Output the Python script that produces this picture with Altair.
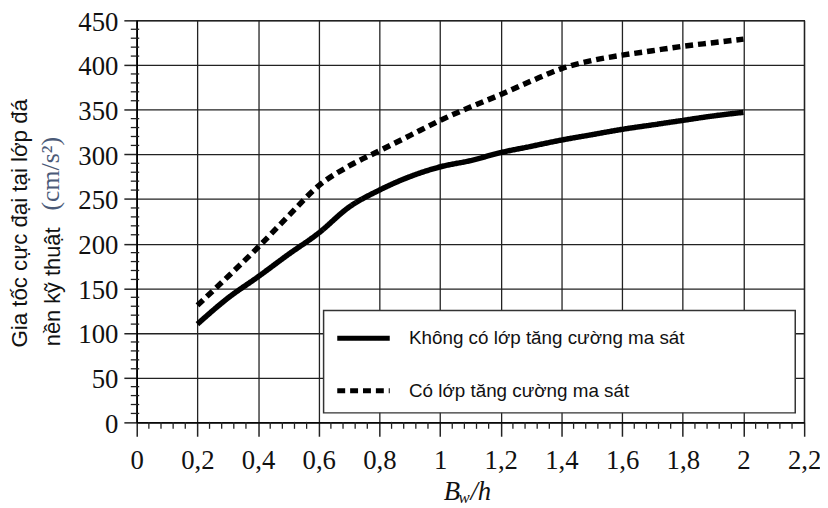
import altair as alt
import pandas as pd

# ---- data ----
x_vals = [0.2, 0.3, 0.4, 0.5, 0.6, 0.7, 0.8, 0.9, 1.0, 1.1, 1.2, 1.3, 1.4, 1.5, 1.6, 1.7, 1.8, 1.9, 2.0]
solid_vals = [110, 139, 163, 188, 212, 241, 260, 275, 286, 293, 302, 309, 316, 322, 328, 333, 338, 343, 347]
dashed_vals = [131, 163, 196, 231, 265, 287, 304, 321, 338, 353, 367, 382, 396, 405, 411, 416, 421, 425, 429]
series_names = ["Không có lớp tăng cường ma sát", "Có lớp tăng cường ma sát"]

x_ticks = [0, 0.2, 0.4, 0.6, 0.8, 1.0, 1.2, 1.4, 1.6, 1.8, 2.0, 2.2]
y_ticks = [0, 50, 100, 150, 200, 250, 300, 350, 400, 450]
x_minor = [round(i * 0.04, 2) for i in range(56) if i % 5]
y_minor = [i * 10 for i in range(46) if i % 5]

y_title_1 = "Gia tốc cực đại tại lớp đá"
y_title_2 = "nền kỹ thuật"
y_title_unit = "(cm/s²)"

rows = []
for xv, s, d in zip(x_vals, solid_vals, dashed_vals):
    rows.append({"x": xv, "y": s, "series": series_names[0]})
    rows.append({"x": xv, "y": d, "series": series_names[1]})
df = pd.DataFrame(rows)

SERIF = "Liberation Serif"
SANS = "Liberation Sans"
INK = "#111111"
GRID = "#222222"

xscale = alt.Scale(domain=[0, 2.2], nice=False, zero=False)
yscale = alt.Scale(domain=[0, 450], nice=False)

lines = alt.Chart(df).mark_line(
    strokeWidth=5.5, interpolate="monotone", color="black", strokeCap="butt"
).encode(
    x=alt.X("x:Q", scale=xscale, axis=alt.Axis(
        values=x_ticks, title=None, grid=True, tickSize=14, labelPadding=12,
        labelExpr="replace(format(datum.value, '.1~f'), '.', ',')",
        labelFlush=False, labelOverlap=False,
    )),
    y=alt.Y("y:Q", scale=yscale, axis=alt.Axis(
        values=y_ticks, title=None, grid=True, tickSize=13, labelPadding=6,
        labelFlush=False, labelOverlap=False, labelOffset=2,
    )),
    strokeDash=alt.StrokeDash("series:N", scale=alt.Scale(domain=series_names, range=[[1, 0], [8, 5]]),
        legend=alt.Legend(
            title=None, orient="none", legendX=200, legendY=292,
            symbolType="stroke", symbolSize=2809, symbolStrokeWidth=5,
            symbolStrokeColor="black", symbolDash=[12, 3],
            labelFont=SANS, labelFontSize=19, labelColor=INK, labelOffset=17,
            labelLimit=0, rowPadding=14, padding=0,
        )),
)

box = alt.Chart(pd.DataFrame({"a": [0]})).mark_rect(
    fill="white", stroke="#333333", strokeWidth=1.5
).encode(x=alt.value(188.7), x2=alt.value(665), y=alt.value(293), y2=alt.value(396.4))

xminor = alt.Chart(pd.DataFrame({"x": x_minor})).mark_rule(color=GRID, strokeWidth=1.3).encode(
    x=alt.X("x:Q", scale=xscale), y=alt.value(405.5), y2=alt.value(412.5)
)
yminor = alt.Chart(pd.DataFrame({"y": y_minor})).mark_rule(color=GRID, strokeWidth=1.3).encode(
    y=alt.Y("y:Q", scale=yscale), x=alt.value(-6), x2=alt.value(2.5)
)

one = pd.DataFrame({"a": [0]})
t1 = alt.Chart(one).mark_text(text=y_title_1, font=SANS, fontSize=22.5, angle=270,
                              align="center", baseline="middle", color=INK).encode(
    x=alt.value(-118), y=alt.value(205))
t2 = alt.Chart(one).mark_text(text=y_title_2, font=SANS, fontSize=22, angle=270,
                              align="left", baseline="middle", color=INK).encode(
    x=alt.value(-84), y=alt.value(329))
t3 = alt.Chart(one).mark_text(text=y_title_unit, font=SERIF, fontSize=26, angle=270,
                              align="left", baseline="middle", color="#4b5a78").encode(
    x=alt.value(-86), y=alt.value(192))
xb = alt.Chart(one).mark_text(text="B", font=SERIF, fontSize=27, fontStyle="italic",
                              align="left", baseline="alphabetic", color=INK).encode(
    x=alt.value(310), y=alt.value(484))
xw = alt.Chart(one).mark_text(text="w", font=SERIF, fontSize=17, fontStyle="italic",
                              align="left", baseline="alphabetic", color=INK).encode(
    x=alt.value(325), y=alt.value(487))
xh = alt.Chart(one).mark_text(text="/h", font=SERIF, fontSize=27, fontStyle="italic",
                              align="left", baseline="alphabetic", color=INK).encode(
    x=alt.value(337), y=alt.value(484))

chart = alt.layer(lines, box, xminor, yminor, t1, t2, t3, xb, xw, xh).properties(
    width=674, height=406,
    padding={"left": 130, "top": 10, "right": 16, "bottom": 84},
    autosize=alt.AutoSizeParams(type="none"),
).configure_view(stroke=GRID, strokeWidth=1.3).configure_axis(
    domainColor="black", domainWidth=1.5, tickColor=GRID, tickWidth=1.5,
    gridColor=GRID, gridWidth=1.3, gridOpacity=1,
    labelFont=SERIF, labelFontSize=27, labelColor=INK,
)

chart.save("out.html", embed_options={"renderer": "svg", "actions": False})
